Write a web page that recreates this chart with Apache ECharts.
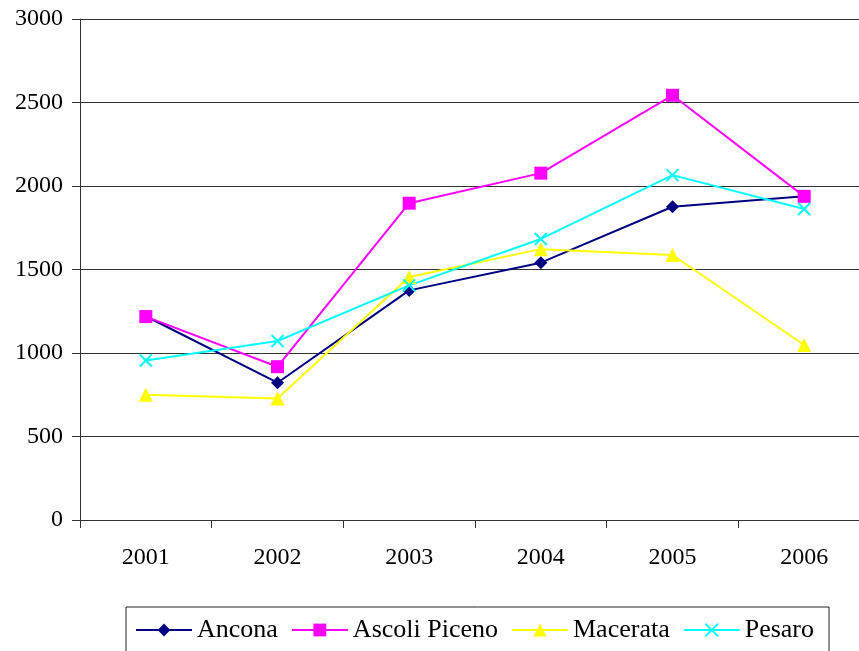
<!DOCTYPE html>
<html>
<head>
<meta charset="utf-8">
<script src="https://cdn.jsdelivr.net/npm/echarts@6/dist/echarts.min.js"></script>
<style>
  html, body { margin: 0; padding: 0; background: #fff; }
  #chart { width: 859px; height: 651px; }
</style>
</head>
<body>
<div id="chart"></div>
<script>
const years = ['2001', '2002', '2003', '2004', '2005', '2006']
const ancona = [1220, 822, 1375, 1541, 1876, 1938]
const ascoliPiceno = [1218, 918, 1897, 2077, 2543, 1938]
const macerata = [750, 728, 1455, 1622, 1587, 1048]
const pesaro = [955, 1072, 1405, 1683, 2065, 1862]

const fontFamily = '"Liberation Serif", "DejaVu Serif", serif'
const crossPath = 'path://M0,0L10,10M10,0L0,10'

const chart = echarts.init(document.getElementById('chart'))

function lineSeries(name, data, color, symbol, size, extra) {
  return Object.assign({
    name,
    type: 'line',
    data,
    symbol,
    symbolSize: size,
    showSymbol: true,
    lineStyle: { color, width: 2 },
    itemStyle: { color, borderWidth: 0 },
    emphasis: { disabled: true },
    z: 3
  }, extra || {})
}

chart.setOption({
  animation: false,
  backgroundColor: '#fff',
  textStyle: { fontFamily },
  grid: { left: 80, top: 19, width: 790, bottom: 131, outerBoundsMode: 'none', containLabel: false },
  legend: {
    left: 126,
    top: 607,
    padding: [10, 15, 10, 9],
    itemGap: 13,
    itemWidth: 56,
    itemHeight: 16,
    borderColor: '#222',
    borderWidth: 1,
    textStyle: { fontFamily, fontSize: 26, color: '#000' },
    data: ['Ancona', 'Ascoli Piceno', 'Macerata', 'Pesaro']
  },
  xAxis: {
    type: 'category',
    data: years,
    boundaryGap: true,
    axisLine: { lineStyle: { color: '#333', width: 1 } },
    axisTick: { show: true, length: 8, lineStyle: { color: '#333' } },
    axisLabel: { color: '#000', fontSize: 24, margin: 26, fontFamily }
  },
  yAxis: {
    type: 'value',
    min: 0,
    max: 3000,
    interval: 500,
    axisLine: { show: true, lineStyle: { color: '#333', width: 1 } },
    axisTick: { show: true, length: 8, lineStyle: { color: '#333' } },
    axisLabel: { color: '#000', fontSize: 24, margin: 17, fontFamily, formatter: (v) => String(v) },
    splitLine: { lineStyle: { color: '#333', width: 1 } }
  },
  series: [
    lineSeries('Ancona', ancona, '#000080', 'diamond', 13),
    lineSeries('Ascoli Piceno', ascoliPiceno, '#ff00ff', 'rect', 13),
    lineSeries('Macerata', macerata, '#ffff00', 'triangle', 14),
    lineSeries('Pesaro', pesaro, '#00ffff', crossPath, 12, {
      itemStyle: { color: '#00ffff', borderColor: '#00ffff', borderWidth: 2 }
    })
  ]
})
</script>
</body>
</html>
